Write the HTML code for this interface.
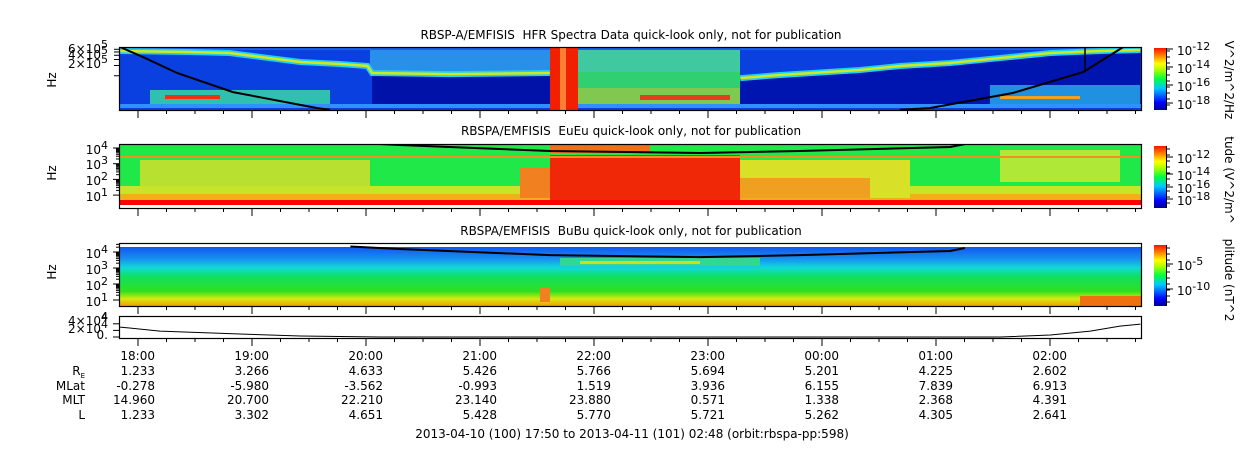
<!DOCTYPE html>
<html><head><meta charset="utf-8"><style>
html,body{margin:0;padding:0;background:#fff;}
svg{display:block;font-family:"DejaVu Sans","Liberation Sans",sans-serif;}
</style></head><body>
<svg id="chart" width="1250" height="449" viewBox="0 0 1250 449" xmlns="http://www.w3.org/2000/svg">
<defs>
<linearGradient id="jet" x1="0" y1="1" x2="0" y2="0">
<stop offset="0" stop-color="#000090"/><stop offset="0.12" stop-color="#0000ff"/><stop offset="0.35" stop-color="#00c8ff"/><stop offset="0.5" stop-color="#00ff40"/><stop offset="0.65" stop-color="#b0ff00"/><stop offset="0.75" stop-color="#ffff00"/><stop offset="0.88" stop-color="#ff8000"/><stop offset="1" stop-color="#ff1000"/>
</linearGradient>
<linearGradient id="p3grad" x1="0" y1="0" x2="0" y2="1">
<stop offset="0" stop-color="#1058f0"/><stop offset="0.2" stop-color="#1890f0"/><stop offset="0.35" stop-color="#10d8d8"/><stop offset="0.5" stop-color="#10e060"/><stop offset="0.75" stop-color="#30e020"/><stop offset="0.88" stop-color="#d8e810"/><stop offset="1" stop-color="#f0a000"/>
</linearGradient>
<clipPath id="c1"><rect x="120" y="47" width="1022" height="63"/></clipPath>
<clipPath id="c2"><rect x="120" y="145" width="1022" height="63"/></clipPath>
<clipPath id="c3"><rect x="120" y="244" width="1022" height="62"/></clipPath>
<clipPath id="c4"><rect x="120" y="317" width="1022" height="21"/></clipPath>
</defs>
<g id="layer"></g>
</svg>
<script>
// ---- data ----
const hourLabels = ["18:00","19:00","20:00","21:00","22:00","23:00","00:00","01:00","02:00"];
const reVals   = ["1.233","3.266","4.633","5.426","5.766","5.694","5.201","4.225","2.602"];
const mlatVals = ["-0.278","-5.980","-3.562","-0.993","1.519","3.936","6.155","7.839","6.913"];
const mltVals  = ["14.960","20.700","22.210","23.140","23.880","0.571","1.338","2.368","4.391"];
const lVals    = ["1.233","3.302","4.651","5.428","5.770","5.721","5.262","4.305","2.641"];
// hours since 17:50
const uhHoursA = [0.01,0.62,0.97,1.59,1.94,2.18,2.22,2.90,3.78];
const uhHzA    = [533e3,499e3,466e3,253e3,221e3,193e3,120e3,112e3,120e3];
const uhHoursB = [5.45,5.80,6.50,6.85,7.29,7.73,8.17,8.61,8.96];
const uhHzB    = [85e3,105e3,147e3,193e3,237e3,332e3,466e3,533e3,572e3];
const p1LineHoursL = [0.01,0.23,0.51,1.0,1.74,1.85];
const p1LineHzL    = [700e3,330e3,120e3,33e3,11.2e3,10e3];
const p1LineHoursR = [6.85,7.11,7.84,8.46,8.81];
const p1LineHzR    = [10e3,11.2e3,31e3,129e3,700e3];
const fceHours = [2.03,2.46,3.78,5.1,5.97,7.29,7.42];
const fceHz    = [22e3,15.5e3,6.4e3,4.8e3,6.4e3,11.6e3,17.8e3];
const p4Hours = [0.01,0.36,1.06,1.59,2.29,7.73,8.17,8.52,8.78,8.96];
const p4Vals  = [3.0e4,1.8e4,0.9e4,0.3e4,0,0,0.6e4,1.8e4,3.3e4,3.9e4];

// ---- scales ----
const X0=119, PXH=114;
const xs = h => X0 + h*PXH;
const y1 = f => 47 + (5.845 - Math.log10(f))*34;
const y2 = f => 148 + (4 - Math.log10(f))*15.7;
const y3 = f => 252 + (4 - Math.log10(f))*16;
const y4 = v => 337 - v/1e4*3.3;

const NS="http://www.w3.org/2000/svg";
const layer=document.getElementById('layer');
function mk(tag,attrs,parent){const e=document.createElementNS(NS,tag);for(const k in attrs)e.setAttribute(k,attrs[k]);(parent||layer).appendChild(e);return e;}
function txt(s,x,y,anchor,size,parent){const t=mk('text',{x:x,y:y,'text-anchor':anchor||'start','font-size':size||12,fill:'#000'},parent);t.textContent=s;return t;}
function pts(hs,vs,ys){return hs.map((h,i)=>xs(h).toFixed(1)+','+ys(vs[i]).toFixed(1)).join(' ');}

// ---- panel 1 ----
const g1=mk('g',{'clip-path':'url(#c1)'});


mk('rect',{x:120,y:47,width:1022,height:63,fill:'#0a40e0'},g1);
mk('rect',{x:120,y:47,width:1022,height:3,fill:'#1860f0'},g1);
mk('rect',{x:370,y:50,width:180,height:22,fill:'#2890e8'},g1);
mk('polygon',{points:pts(uhHoursA.slice(6),uhHzA.slice(6),y1)+' '+xs(3.78)+',104 '+xs(2.22)+',104',fill:'#0012a8'},g1);
mk('polygon',{points:pts(uhHoursB,uhHzB,y1)+' '+xs(8.96)+',104 '+xs(5.45)+',104',fill:'#0014b0'},g1);
mk('rect',{x:578,y:50,width:162,height:40,fill:'#40c8a0'},g1);
mk('rect',{x:578,y:72,width:162,height:18,fill:'#30d070'},g1);
mk('rect',{x:578,y:88,width:162,height:20,fill:'#80c850'},g1);
mk('rect',{x:640,y:95,width:90,height:5,fill:'#e04020'},g1);
mk('rect',{x:150,y:90,width:180,height:18,fill:'#30c0b0'},g1);
mk('rect',{x:165,y:95,width:55,height:4,fill:'#f03010'},g1);
mk('rect',{x:990,y:85,width:150,height:22,fill:'#2090e0'},g1);
mk('rect',{x:1000,y:96,width:80,height:3,fill:'#f0a020'},g1);
mk('rect',{x:120,y:104,width:1022,height:4,fill:'#3090ff'},g1);
mk('rect',{x:550,y:47,width:28,height:63,fill:'#f02000'},g1);
mk('rect',{x:560,y:47,width:6,height:63,fill:'#ff8030'},g1);
[[uhHoursA,uhHzA],[uhHoursB,uhHzB]].forEach(([h,v])=>{
  mk('polyline',{points:pts(h,v,y1),fill:'none',stroke:'#20d0f0','stroke-width':6},g1);
  const l=mk('polyline',{points:pts(h,v,y1),fill:'none',stroke:'#d0e820','stroke-width':2.5},g1);
  
  
});
[[p1LineHoursL,p1LineHzL],[p1LineHoursR,p1LineHzR]].forEach(([h,v])=>{
  const l=mk('polyline',{points:pts(h,v,y1),fill:'none',stroke:'#000','stroke-width':2},g1);
  
  
});
mk('line',{x1:1085,y1:47,x2:1085,y2:72,stroke:'#000','stroke-width':1.5},g1);

// ---- panel 2 ----
const g2=mk('g',{'clip-path':'url(#c2)'});


mk('rect',{x:120,y:145,width:1022,height:60,fill:'#20e848'},g2);
mk('rect',{x:140,y:160,width:230,height:30,fill:'#b8e030'},g2);
mk('rect',{x:1000,y:150,width:120,height:32,fill:'#b0e838'},g2);
mk('rect',{x:120,y:186,width:1022,height:10,fill:'#c8e428'},g2);
mk('rect',{x:120,y:194,width:1022,height:6,fill:'#f0b018'},g2);
mk('rect',{x:740,y:160,width:170,height:38,fill:'#d8e028'},g2);
mk('rect',{x:740,y:178,width:130,height:20,fill:'#f0a020'},g2);
mk('rect',{x:520,y:168,width:30,height:30,fill:'#f08020'},g2);
mk('rect',{x:550,y:155,width:190,height:45,fill:'#f02808'},g2);
mk('rect',{x:550,y:145,width:100,height:8,fill:'#f07018'},g2);
mk('rect',{x:120,y:156,width:1022,height:2,fill:'#f09020'},g2);
mk('rect',{x:120,y:200,width:1022,height:5,fill:'#ff0000'},g2);
const f2=mk('polyline',{points:pts(fceHours,fceHz,y2),fill:'none',stroke:'#000','stroke-width':2},g2);



// ---- panel 3 ----
const g3=mk('g',{'clip-path':'url(#c3)'});


mk('rect',{x:120,y:247,width:1022,height:59,fill:'url(#p3grad)'},g3);
mk('rect',{x:560,y:258,width:200,height:8,fill:'#30d890'},g3);
mk('rect',{x:580,y:261,width:120,height:3,fill:'#c8e020'},g3);
mk('rect',{x:540,y:288,width:10,height:14,fill:'#f08020'},g3);
mk('rect',{x:1080,y:296,width:62,height:10,fill:'#f07010'},g3);
const f3=mk('polyline',{points:pts(fceHours,fceHz,y3),fill:'none',stroke:'#000','stroke-width':2},g3);



// ---- panel 4 ----
const g4=mk('g',{'clip-path':'url(#c4)'});
const l4=mk('polyline',{points:pts(p4Hours,p4Vals,y4),fill:'none',stroke:'#000','stroke-width':1},g4);



// ---- frames, ticks ----
const panels=[[47,110],[144,208],[243,306],[316,338]];
panels.forEach(([t,b],i)=>{
  const r=mk('rect',{x:119.5,y:t+0.5,width:1022,height:b-t,fill:'none',stroke:'#000','stroke-width':1.2});
  
  
  for(let q=0;q<=36;q++){
    const h=(10/60)+q*0.25; const x=xs(h); if(x>1142)break;
    const major=q%4===0;
    mk('line',{x1:x,y1:b,x2:x,y2:b+(major?8:4),stroke:'#000','stroke-width':1});
  }
});
function pow(x,y,base,exp,anchor){const t=mk('text',{x:x,y:y,'text-anchor':anchor||'end','font-size':12});t.innerHTML=base+'<tspan dy="-5" font-size="11">'+exp+'</tspan>';return t;}
pow(108,53,'6×10','5');pow(108,59,'4×10','5');pow(108,68,'2×10','5');
[6e5,5e5,4e5,3e5,2e5,1e5].forEach(f=>mk('line',{x1:114,y1:y1(f),x2:119,y2:y1(f),stroke:'#000'}));
[[4,148],[3,163],[2,179],[1,195]].forEach(([e,y])=>{pow(108,y+6,'10',''+e);});
[[4,252],[3,268],[2,284],[1,300]].forEach(([e,y])=>{pow(108,y+6,'10',''+e);});
for(let d=0;d<4;d++)for(let m=1;m<10;m++){
  const v=Math.pow(10,d)*m*10;
  if(y2(v)>144&&y2(v)<208)mk('line',{x1:m===1?113:116,y1:y2(v),x2:119,y2:y2(v),stroke:'#000'});
  if(y3(v)>243&&y3(v)<306)mk('line',{x1:m===1?113:116,y1:y3(v),x2:119,y2:y3(v),stroke:'#000'});
}
pow(108,325,'4×10','4');pow(108,333,'2×10','4');txt('0.',108,339,'end');txt('4',108,321,'end').setAttribute('font-size',11);
[0,2e4,4e4].forEach(v=>mk('line',{x1:113,y1:y4(v),x2:119,y2:y4(v),stroke:'#000'}));
['Hz','Hz','Hz'].forEach((s,i)=>{const y=[80,173,272][i];const t=txt(s,0,0,'middle',12);t.setAttribute('transform','translate(56,'+y+') rotate(-90)');});

// titles
[['RBSP-A/EMFISIS  HFR Spectra Data quick-look only, not for publication',39],['RBSPA/EMFISIS  EuEu quick-look only, not for publication',135],['RBSPA/EMFISIS  BuBu quick-look only, not for publication',235]].forEach(([s,y],i)=>{const t=txt(s,631,y,'middle',12);t.style.whiteSpace='pre';});

// colorbars
const cbs=[[48,110,[['-12',53],['-14',71],['-16',89],['-18',107]],'V^2/m^2/Hz',80],[146,208,[['-12',161],['-14',178],['-16',191],['-18',203]],'tude (V^2/m^',180],[245,306,[['-5',268],['-10',293]],'plitude (nT^2',280]];
cbs.forEach(([t,b,labs,title,cy],i)=>{
  const r=mk('rect',{x:1154,y:t,width:12,height:b-t,fill:'url(#jet)'});
  
  
  mk('line',{x1:1166.5,y1:t,x2:1166.5,y2:b,stroke:'#000'});
  for(let y=t+3;y<b;y+=6)mk('line',{x1:1166,y1:y,x2:1170,y2:y,stroke:'#000'});
  labs.forEach(([e,y])=>{mk('line',{x1:1166,y1:y-4,x2:1173,y2:y-4,stroke:'#000'});pow(1177,y+2,'10',e,'start');});
  const tt=txt(title,0,0,'middle',12);tt.setAttribute('transform','translate(1225,'+cy+') rotate(90)');
  
  
});

// bottom table
const rows=[[hourLabels,360],[reVals,375],[mlatVals,390],[mltVals,404],[lVals,419]];
rows.forEach(([arr,y])=>arr.forEach((s,i)=>{txt(s,xs(10/60+i)+17,y,'end',12);}));
const re=txt('R',85,375,'end',12);re.innerHTML='R<tspan font-size="7" dy="3">E</tspan>';
txt('MLat',85,390,'end');txt('MLT',85,404,'end');txt('L',85,419,'end');
const ft=txt('2013-04-10 (100) 17:50 to 2013-04-11 (101) 02:48 (orbit:rbspa-pp:598)',632,438,'middle',12);


</script>
</body></html>
